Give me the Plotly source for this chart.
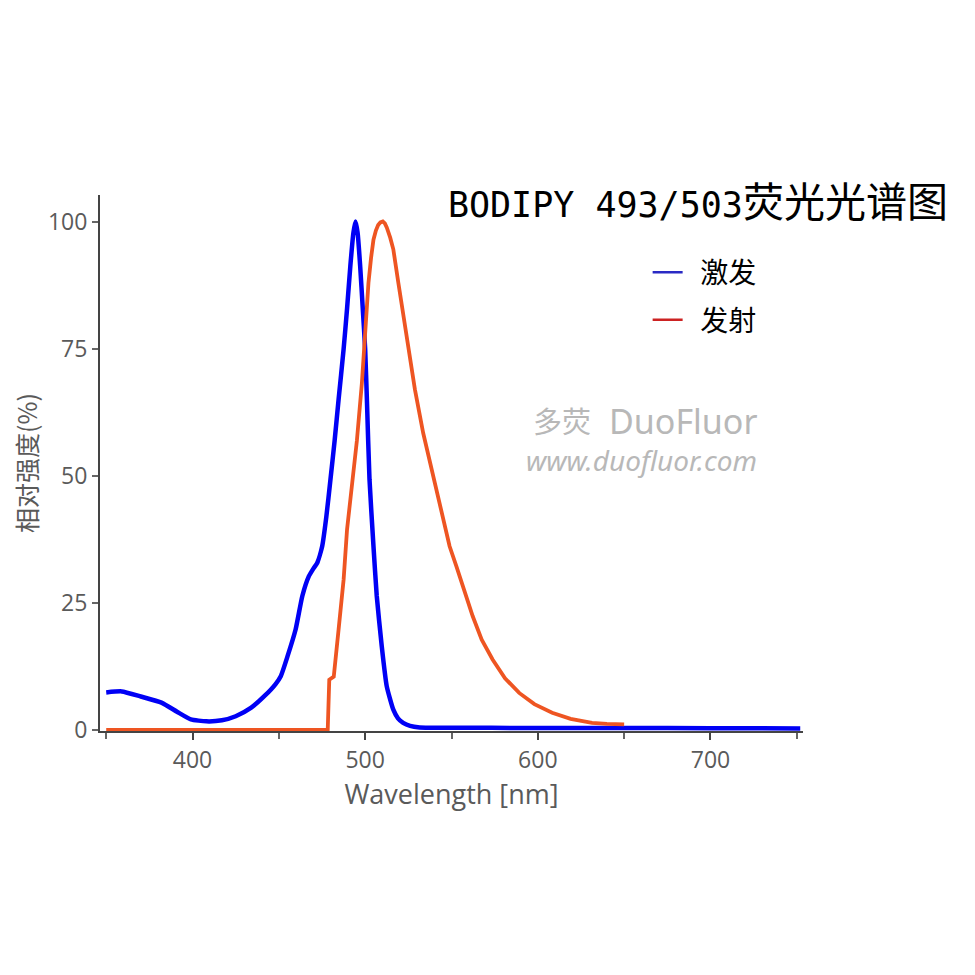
import plotly.graph_objects as go

# excitation spectrum
ex_wl = [350, 359, 370, 382, 391, 399, 408, 417, 425, 434, 442, 448, 451.1, 455,
         459.7, 463.6, 467.4, 470, 472.2, 475.1, 477.5, 479.9, 482.3, 484.6, 487.5,
         489.5, 491.4, 493.2, 494.4, 495.6, 497.1, 498.6, 500, 501, 502.5, 504.8,
         506.7, 509.6, 512.5, 516.3, 519, 522, 526, 531.6, 545, 600, 650, 700, 752]
ex_val = [7.4, 7.6, 6.6, 5.4, 3.6, 2.1, 1.7, 1.9, 2.7, 4.4, 6.8, 9.0, 10.6, 14.5,
          19.8, 26.4, 30.3, 31.8, 32.9, 36.2, 42.0, 49.4, 57.0, 65.1, 75.0,
          83.0, 91.4, 98.0, 100.2, 98.0, 91.4, 83.0, 75.0, 65.0, 49.4, 36.2,
          26.4, 16.5, 8.6, 4.0, 2.3, 1.4, 0.8, 0.5, 0.45, 0.4, 0.4, 0.35, 0.3]

# emission spectrum
em_wl = [350, 420, 470, 478.3, 479.2, 480.5, 481.8, 484.6, 487.5, 489.5, 492.3,
         495.2, 498.1, 500, 501.9, 503.4, 504.8, 506.2, 507.5, 508.8, 510.2, 511.4,
         512.5, 514.5, 516.3, 519.2, 522.1, 525, 528.8, 533.6, 539.3, 543.2, 548.9,
         552.8, 557.5, 562.3, 567.5, 573.8, 581, 589.2, 598, 608.3, 619, 631.4, 640, 650]
em_val = [0, 0, 0, 0, 9.9, 10.2, 10.5, 19.8, 29.6, 39.5, 47.5,
          57.0, 68.4, 78.3, 88.1, 93.0, 96.6, 98.4, 99.5, 100.0, 100.2, 99.8,
          99.0, 97.0, 94.7, 88.1, 81.5, 75.0, 67.1, 58.5, 50.0, 44.0, 36.2,
          32.3, 27.2, 22.4, 17.8, 13.9, 10.2, 7.3, 5.1, 3.4, 2.2, 1.4, 1.2, 1.1]

legend_names = ["激发", "发射"]
legend_colors = ["#2a2ac4", "#cc2222"]

y_ticks = [0, 25, 50, 75, 100]

tick_font = dict(family="Open Sans, sans-serif", size=23, color="#5a5a5a")

fig = go.Figure()
fig.add_trace(go.Scatter(x=ex_wl, y=ex_val, mode="lines", showlegend=False,
                         line=dict(color="#0000f5", width=4.5, shape="spline", smoothing=0.5)))
fig.add_trace(go.Scatter(x=em_wl, y=em_val, mode="lines", showlegend=False,
                         line=dict(color="#ee5522", width=3.8)))

# legend-only entries (their colours differ from the curves in the original)
for i in range(len(legend_names)):
    fig.add_trace(go.Scatter(x=[None], y=[None], mode="lines", name="  " + legend_names[i],
                             legendgroup=legend_names[i],
                             line=dict(color=legend_colors[i], width=2.5)))

fig.update_layout(
    width=975, height=975,
    plot_bgcolor="white", paper_bgcolor="white",
    margin=dict(l=90, r=180, t=187, b=252),
    title=dict(
        text="BODIPY 493/503<span style='font-size:41px;font-family:Noto Sans CJK SC'>荧光光谱图</span>",
        font=dict(family="DejaVu Sans Mono, Liberation Mono, monospace", size=35, color="black"),
        xref="container", yref="container", x=0.964, xanchor="right", y=0.798, yanchor="middle"),
    legend=dict(x=0.779, y=0.902, xanchor="left", yanchor="top", tracegroupgap=8,
                bgcolor="rgba(0,0,0,0)",
                font=dict(family="Noto Sans CJK SC", size=28, color="black")),
    xaxis=dict(range=[346.4, 753.6], tick0=0, dtick=100, ticks="outside", ticklen=7,
               tickcolor="#444", tickwidth=2, showline=True, linecolor="#444", linewidth=2,
               showgrid=False, zeroline=False, tickfont=tick_font,
               minor=dict(dtick=50, ticks="outside", ticklen=6, tickcolor="#666", tickwidth=1.5),
               title=dict(text="Wavelength [nm]", standoff=0,
                          font=dict(family="Open Sans, sans-serif", size=27, color="#5a5a5a"))),
    yaxis=dict(range=[-0.2, 105.4], tickvals=y_ticks, ticks="outside", ticklen=6,
               tickcolor="#666", tickwidth=1.5, showline=True, linecolor="#444", linewidth=2,
               showgrid=False, zeroline=False, tickfont=tick_font,
               title=dict(text="相对强度(%)", standoff=10,
                          font=dict(family="Noto Sans CJK SC", size=25, color="#5a5a5a"))),
)

# watermark
wm = "#b8b8b8"
fig.add_annotation(text="多荧", xref="paper", yref="paper", x=(530 - 98) / 705, y=(731 - 420) / 536,
                   xanchor="left", showarrow=False,
                   font=dict(family="Noto Sans CJK SC", size=29, color=wm))
fig.add_annotation(text="DuoFluor", xref="paper", yref="paper", x=(606 - 98) / 705, y=(731 - 421) / 536,
                   xanchor="left", showarrow=False,
                   font=dict(family="Noto Sans, sans-serif", size=34, color=wm))
fig.add_annotation(text="<i>www.duofluor.com</i>", xref="paper", yref="paper",
                   x=(523 - 98) / 705, y=(731 - 460) / 536, xanchor="left", showarrow=False,
                   font=dict(family="Noto Sans, sans-serif", size=28, color=wm))

fig.write_html("out.html")
